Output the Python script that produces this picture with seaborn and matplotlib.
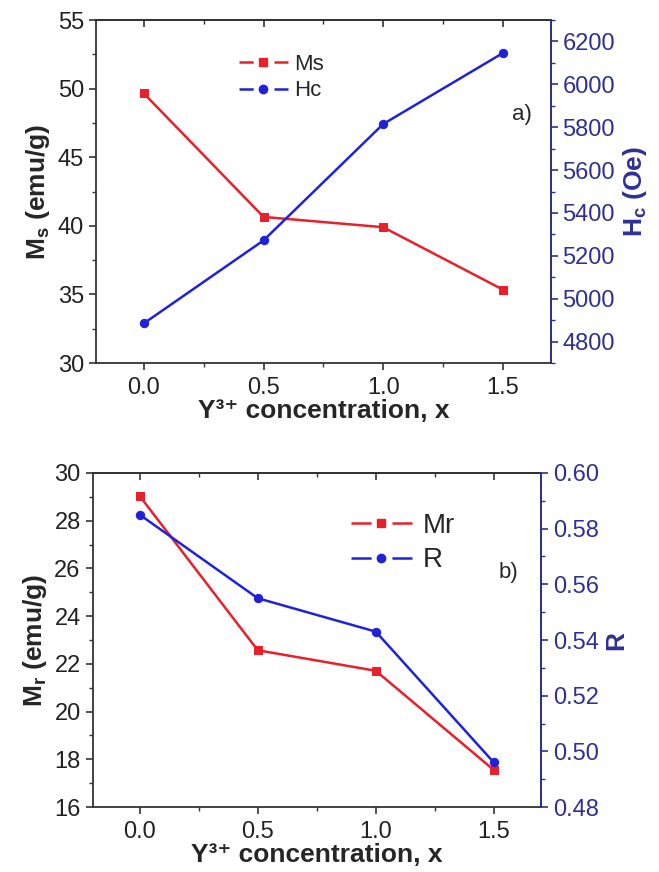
import numpy as np
import matplotlib
matplotlib.use("Agg")
import matplotlib.pyplot as plt
import seaborn as sns
from matplotlib.ticker import MultipleLocator
from matplotlib.lines import Line2D

# --- Data ---
x = [0.0, 0.5, 1.0, 1.5]
ms = [49.65, 40.65, 39.9, 35.35]
hc = [4885, 5272, 5815, 6146]
mr = [29.03, 22.57, 21.71, 17.55]
r_ratio = [0.585, 0.555, 0.543, 0.496]

RED = "#e8202a"
BLUE = "#1f22d8"
NAVY = "#2e3192"

sns.set_theme(style="ticks")
plt.rcParams["font.family"] = ["Liberation Sans", "DejaVu Sans"]
plt.rcParams["mathtext.fontset"] = "custom"
plt.rcParams["mathtext.rm"] = "Liberation Sans"
plt.rcParams["mathtext.bf"] = "Liberation Sans:bold"
plt.rcParams["mathtext.it"] = "Liberation Sans:italic"
plt.rcParams["lines.scale_dashes"] = False

fig = plt.figure(figsize=(6.59, 8.72), dpi=100)
ax1 = fig.add_axes([0.1457, 0.5837, 0.690, 0.3933])
ax2 = fig.add_axes([0.1404, 0.0745, 0.6806, 0.3831])


def style_panel(ax, axr, ylim_l, ylim_r, maj_l, maj_r, fmt_r):
    ax.set_xlim(-0.2, 1.7)
    ax.set_ylim(*ylim_l)
    axr.set_ylim(*ylim_r)
    ax.set_xticks([0.0, 0.5, 1.0, 1.5])
    ax.set_xticklabels(["0.0", "0.5", "1.0", "1.5"])
    ax.xaxis.set_minor_locator(MultipleLocator(0.25))
    ax.yaxis.set_major_locator(MultipleLocator(maj_l))
    ax.yaxis.set_minor_locator(MultipleLocator(maj_l / 2))
    axr.yaxis.set_major_locator(MultipleLocator(maj_r))
    axr.yaxis.set_minor_locator(MultipleLocator(maj_r / 2))
    axr.yaxis.set_major_formatter(fmt_r)
    for s in ["left", "bottom", "top"]:
        ax.spines[s].set_color("#333333")
        ax.spines[s].set_linewidth(1.3)
    axr.spines["right"].set_color(NAVY)
    axr.spines["right"].set_linewidth(1.3)
    for s in ["left", "bottom", "top"]:
        axr.spines[s].set_visible(False)
    ax.tick_params(axis="both", which="major", labelsize=17, length=5,
                   width=1.2, color="#333333", labelcolor="#222222", direction="out")
    ax.tick_params(axis="both", which="minor", length=3, width=1.0,
                   color="#333333", direction="out")
    ax.tick_params(axis="x", which="major", pad=5)
    top = ax.secondary_xaxis("top")
    top.set_xticks([0.0, 0.5, 1.0, 1.5])
    top.xaxis.set_minor_locator(MultipleLocator(0.25))
    top.tick_params(which="major", direction="in", length=5, width=1.2,
                    color="#333333", labeltop=False)
    top.tick_params(which="minor", direction="in", length=3, width=1.0,
                    color="#333333")
    top.spines["top"].set_color("#333333")
    top.spines["top"].set_linewidth(1.3)
    axr.tick_params(axis="y", which="major", labelsize=17, length=5, width=1.2,
                    color=NAVY, labelcolor=NAVY, direction="out")
    axr.tick_params(axis="y", which="minor", length=3, width=1.0,
                    color=NAVY, direction="out")


def legend_handles(dash, gap):
    hs = []
    for col, mk in [(RED, "s"), (BLUE, "o")]:
        line = Line2D([], [], color=col, lw=1.8,
                      linestyle=(0, (dash, gap, dash, 200)))
        dot = Line2D([], [], color=col, lw=0, marker=mk, ms=6, mfc=col, mec=col)
        hs.append((line, dot))
    return hs


# --- Panel a ---
ax1r = ax1.twinx()
sns.lineplot(x=x, y=ms, ax=ax1, color=RED, marker="s", markersize=6,
             markeredgecolor=RED, linewidth=1.8)
sns.lineplot(x=x, y=hc, ax=ax1r, color=BLUE, marker="o", markersize=6,
             markeredgecolor=BLUE, linewidth=1.8)
style_panel(ax1, ax1r, (30, 55), (4700, 6300), 5, 200, "{x:.0f}")
ax1.set_xlabel("Y³⁺ concentration, x", fontsize=19, fontweight="bold", labelpad=0)
ax1.set_ylabel("M$_\\mathbf{s}$ (emu/g)", fontsize=19, fontweight="bold", labelpad=4)
ax1r.set_ylabel("H$_\\mathbf{c}$ (Oe)", fontsize=19, fontweight="bold", color=NAVY, labelpad=4)
ax1.text(1.54, 47.7, "a)", fontsize=16)

ax1.legend(legend_handles(10.2, 15.0), ["Ms", "Hc"], loc="upper left",
           bbox_to_anchor=(0.27, 0.96), frameon=False, fontsize=16,
           handlelength=2.2, handletextpad=0.3, labelspacing=0.25)

# --- Panel b ---
ax2r = ax2.twinx()
sns.lineplot(x=x, y=mr, ax=ax2, color=RED, marker="s", markersize=6,
             markeredgecolor=RED, linewidth=1.8)
sns.lineplot(x=x, y=r_ratio, ax=ax2r, color=BLUE, marker="o", markersize=6,
             markeredgecolor=BLUE, linewidth=1.8)
style_panel(ax2, ax2r, (16, 30), (0.48, 0.60), 2, 0.02, "{x:.2f}")
ax2.set_xlabel("Y³⁺ concentration, x", fontsize=19, fontweight="bold", labelpad=0)
ax2.set_ylabel("M$_\\mathbf{r}$ (emu/g)", fontsize=19, fontweight="bold", labelpad=4)
ax2r.set_ylabel("R", fontsize=19, fontweight="bold", color=NAVY, labelpad=4)
ax2.text(1.52, 25.6, "b)", fontsize=16)

ax2.legend(legend_handles(14.5, 15.0), ["Mr", "R"], loc="upper left",
           bbox_to_anchor=(0.52, 0.955), frameon=False, fontsize=20,
           handlelength=2.2, handletextpad=0.4, labelspacing=0.3)

fig.savefig("out.png", dpi=100)
